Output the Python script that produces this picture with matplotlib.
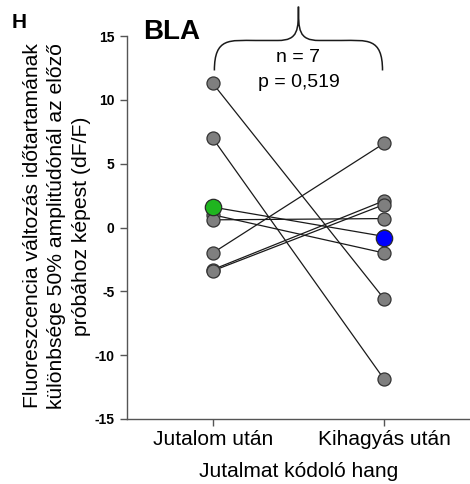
import matplotlib
matplotlib.use("Agg")
import matplotlib.pyplot as plt
from matplotlib.path import Path
from matplotlib.patches import PathPatch

plt.rcParams['font.family'] = ['Liberation Sans', 'DejaVu Sans']
plt.rcParams['axes.unicode_minus'] = False

categories = ["Jutalom után", "Kihagyás után"]
after_reward = [11.3, 7.0, 1.6, 1.0, 0.6, -2.0, -3.3, -3.4]
after_omission = [-5.6, -11.9, -0.7, -2.0, 0.7, 6.6, 2.1, 1.8]
mean_reward = 1.64
mean_omission = -0.86
yticks = [-15, -10, -5, 0, 5, 10, 15]
n_text = "n = 7"
p_text = "p = 0,519"

fig = plt.figure(figsize=(4.70, 4.84), dpi=100)
ax = fig.add_axes([0.270, 0.1343, 0.730, 0.7913])

xpos = [1, 2]
for a, b in zip(after_reward, after_omission):
    ax.plot(xpos, [a, b], color='#1a1a1a', lw=0.9, zorder=2)
ax.plot([1] * len(after_reward), after_reward, 'o', ms=9.4, mfc='#7f7f7f',
        mec='#333333', mew=0.9, zorder=3, linestyle='none')
ax.plot([2] * len(after_omission), after_omission, 'o', ms=9.4, mfc='#7f7f7f',
        mec='#333333', mew=0.9, zorder=3, linestyle='none')
ax.plot([1], [mean_reward], 'o', ms=11.8, mfc='#1fb51f', mec='#2a2a2a', mew=0.9, zorder=4)
ax.plot([2], [mean_omission], 'o', ms=11.8, mfc='#0000ff', mec='#2a2a2a', mew=0.9, zorder=4)

ax.set_xlim(0.5, 2.5)
ax.set_ylim(-15, 15)
ax.set_yticks(yticks)
ax.set_yticklabels([str(t) for t in yticks], fontsize=10, fontweight='bold')
ax.set_xticks(xpos)
ax.set_xticklabels(categories, fontsize=15)
ax.set_xlabel("Jutalmat kódoló hang", fontsize=15, labelpad=9)
for s in ['top', 'right']:
    ax.spines[s].set_visible(False)
for s in ['left', 'bottom']:
    ax.spines[s].set_color('#555555')
    ax.spines[s].set_linewidth(1.0)
ax.tick_params(axis='y', length=5, width=1, color='#555555', pad=4)
ax.tick_params(axis='x', length=5, width=1, color='#555555', pad=3)

# brace
path_verts = [(1.01, 12.3),
              (1.01, 14.9), (1.1, 14.65), (1.25, 14.65),
              (1.38, 14.65),
              (1.5, 14.65), (1.5, 15.5), (1.5, 17.3),
              (1.5, 15.5), (1.5, 14.65), (1.62, 14.65),
              (1.75, 14.65),
              (1.9, 14.65), (1.99, 14.9), (1.99, 12.3)]
codes = [Path.MOVETO,
         Path.CURVE4, Path.CURVE4, Path.CURVE4,
         Path.LINETO,
         Path.CURVE4, Path.CURVE4, Path.CURVE4,
         Path.CURVE4, Path.CURVE4, Path.CURVE4,
         Path.LINETO,
         Path.CURVE4, Path.CURVE4, Path.CURVE4]
brace = PathPatch(Path(path_verts, codes), fc='none', ec='#1a1a1a', lw=1.1,
                  clip_on=False, transform=ax.transData)
ax.add_patch(brace)
ax.text(1.5, 13.3, n_text, ha='center', va='center', fontsize=14)
ax.text(1.5, 11.35, p_text, ha='center', va='center', fontsize=14)

fig.text(143 / 470, 1 - 39 / 484, "BLA", fontsize=20, fontweight='bold', ha='left', va='baseline')
fig.text(12 / 470, 1 - 28 / 484, "H", fontsize=15, fontweight='bold', ha='left', va='baseline')

fig.text(57 / 470, 1 - 226 / 484,
         "Fluoreszcencia változás időtartamának\nkülönbsége 50% amplitúdónál az előző\npróbához képest (dF/F)",
         rotation=90, ha='center', va='center', fontsize=15.2, linespacing=1.38,
         multialignment='center')

fig.savefig("out.png", dpi=100, facecolor='white')
